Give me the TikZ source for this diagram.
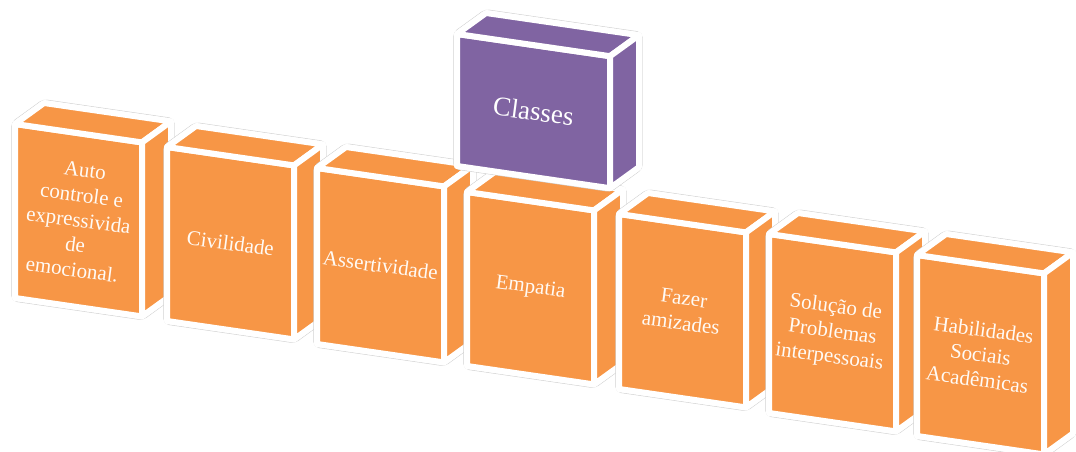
\documentclass[tikz,border=0pt]{standalone}
\usepackage{fontspec}
\setmainfont{Liberation Serif}
\usepackage{xcolor}
\definecolor{boxorange}{HTML}{F79646}
\definecolor{boxpurple}{HTML}{8064A2}
% one slab: name, x, y, width, height, colour family, label
\newcommand{\slab}[7]{%
    \begin{scope}[shift={(#2,#3)}]
        \pgfmathsetmacro{\slabdrop}{0.145*#4}
        \coordinate (#1-ftl) at (0,0);
        \coordinate (#1-ftr) at (#4,\slabdrop);
        \coordinate (#1-fbr) at (#4,\slabdrop+#5);
        \coordinate (#1-fbl) at (0,#5);
        \coordinate (#1-btl) at (29,-21);
        \coordinate (#1-btr) at (#4+29,\slabdrop-21);
        \coordinate (#1-bbr) at (#4+29,\slabdrop+#5-21);
        \filldraw[halo] (#1-ftl) -- (#1-btl) -- (#1-btr) -- (#1-bbr) -- (#1-fbr) -- (#1-fbl) -- cycle;
        \filldraw[#6box] (#1-ftl) -- (#1-ftr) -- (#1-fbr) -- (#1-fbl) -- cycle;
        \filldraw[#6box] (#1-ftl) -- (#1-btl) -- (#1-btr) -- (#1-ftr) -- cycle;
        \filldraw[#6box] (#1-ftr) -- (#1-btr) -- (#1-bbr) -- (#1-fbr) -- cycle;
        \node[#6lbl] (#1) at (#4/2,#5/2+\slabdrop/2) {#7};
    \end{scope}
}

\begin{document}
\begin{tikzpicture}[
        x=1pt, y=-1pt,
        halo/.style={fill=white, draw=gray!35, line width=0.7pt, double=white, double distance=6pt, rounded corners=3pt},
        face/.style={draw=white, line width=6pt, line join=round},
        orangebox/.style={face, fill=boxorange},
        purplebox/.style={face, fill=boxpurple},
        orangelbl/.style={text=white!96!orange, align=center, rotate=-7.5, inner sep=0pt, font=\fontsize{21}{25}\selectfont},
        purplelbl/.style={orangelbl, text=white, font=\fontsize{27}{32}\selectfont}
    ]
    \useasboundingbox (0,0) rectangle (1076,452);

    \slab{auto}{15}{124}{127}{174}{orange}{Auto\\controle e\\expressivida\\de\\emocional.}
    \slab{civ}{167}{147}{127}{174}{orange}{Civilidade}
    \slab{ass}{317}{168}{127}{176}{orange}{Assertividade}
    \slab{emp}{467}{192}{127}{174}{orange}{Empatia}
    \slab{faz}{619}{214}{127}{175}{orange}{Fazer\\amizades}
    \slab{sol}{769}{234}{127}{179}{orange}{Solução de\\Problemas\\interpessoais}
    \slab{hab}{917}{255}{127}{181}{orange}{Habilidades\\Sociais\\Acadêmicas}

    \slab{cls}{457}{34}{153}{132}{purple}{Classes}
\end{tikzpicture}
\end{document}
